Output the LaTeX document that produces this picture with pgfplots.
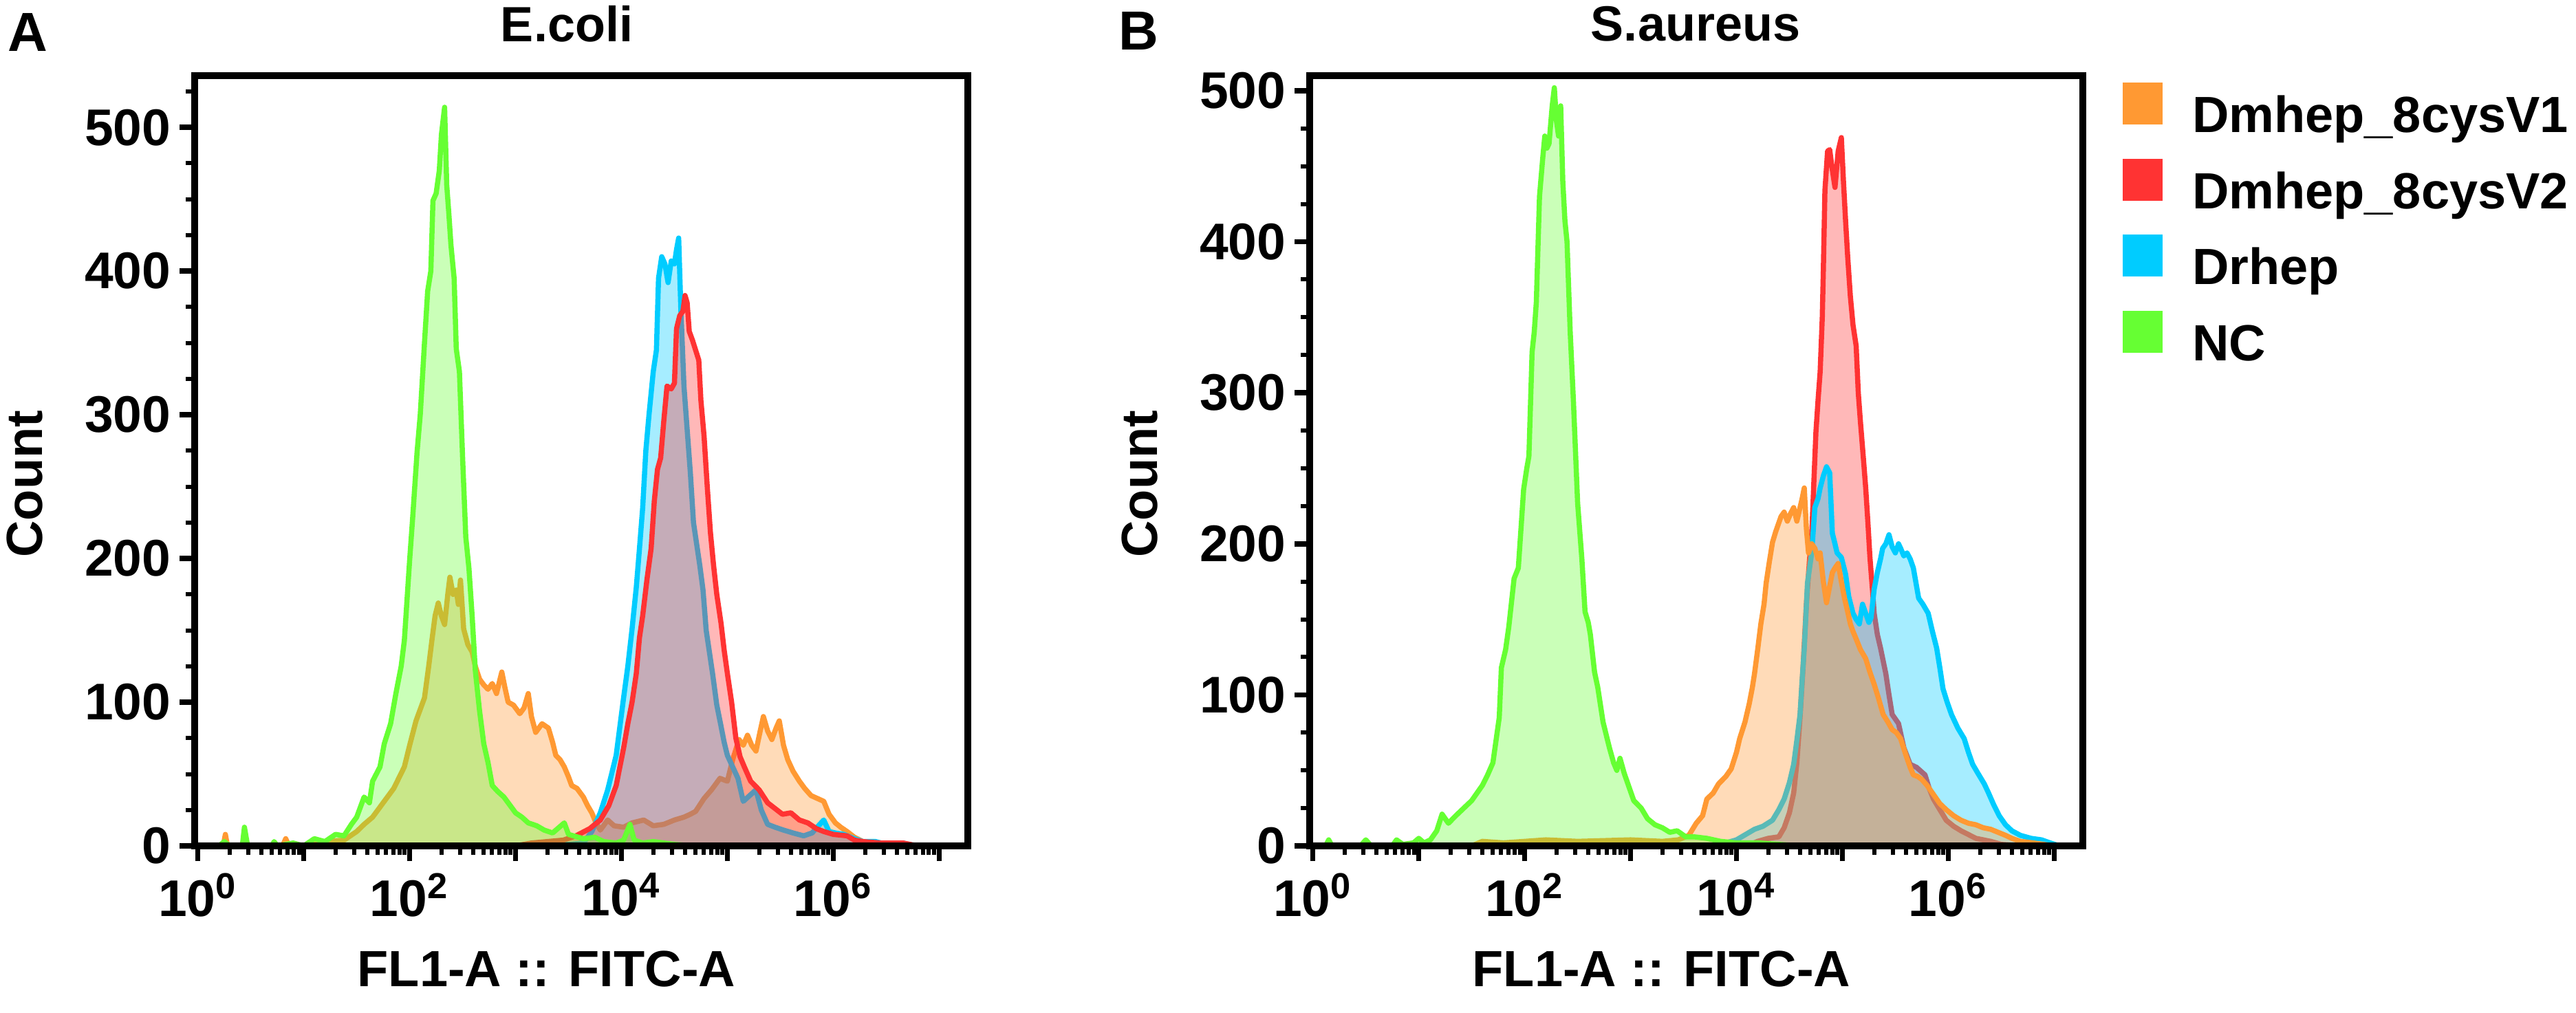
\documentclass[border=0pt]{standalone}
\usepackage{fontspec}
\setmainfont{Liberation Sans}
\usepackage{pgfplots}
\pgfplotsset{compat=1.18}
\usepackage{pgfplotstable}

\definecolor{cOr}{RGB}{255,153,51}
\definecolor{cRe}{RGB}{255,51,51}
\definecolor{cCy}{RGB}{0,204,255}
\definecolor{cGr}{RGB}{102,255,51}

% ---------------- Panel A (E.coli), x = log10(FL1-A) ----------------
\pgfplotstableread{
x y
-0.03 0
0.2 0
0.25 3
0.3 0
0.42 0
0.44 13
0.47 0
0.7 0
0.72 3
0.75 0
0.9 2
1.0 0
1.1 5
1.2 3
1.3 8
1.38 7
1.45 15
1.5 20
1.57 34
1.62 30
1.65 45
1.72 55
1.76 71
1.82 85
1.87 106
1.92 125
1.95 143
2.0 199
2.03 230
2.07 274
2.1 300
2.14 350
2.17 386
2.2 400
2.22 449
2.25 454
2.28 470
2.3 495
2.33 514
2.35 460
2.37 440
2.39 418
2.42 395
2.44 346
2.47 330
2.5 270
2.53 215
2.56 193
2.59 160
2.62 122
2.66 94
2.7 71
2.74 58
2.78 42
2.83 38
2.89 34
2.95 28
3.0 23
3.06 20
3.12 16
3.2 14
3.27 11
3.35 9
3.46 16
3.5 8
3.64 5
3.75 6
3.83 3
3.95 2
4.02 4
4.08 15
4.12 4
4.2 2
4.3 3
4.5 1
4.7 0
7.27 0
}\AGreen

\pgfplotstableread{
x y
-0.03 0
0.24 0
0.26 8
0.28 0
0.8 0
0.83 5
0.86 0
1.0 0
1.2 3
1.38 4
1.5 10
1.57 15
1.65 20
1.76 31
1.85 40
1.95 55
2.0 70
2.06 87
2.1 95
2.14 103
2.18 125
2.21 143
2.24 160
2.27 169
2.3 160
2.33 154
2.36 175
2.38 187
2.41 175
2.44 178
2.46 168
2.48 185
2.51 151
2.55 140
2.59 135
2.62 125
2.66 116
2.7 112
2.74 109
2.78 113
2.82 106
2.87 121
2.9 110
2.93 100
2.98 98
3.04 92
3.08 96
3.12 106
3.15 90
3.19 79
3.25 85
3.31 82
3.35 72
3.38 63
3.42 60
3.46 55
3.5 48
3.53 42
3.58 40
3.64 34
3.68 28
3.72 23
3.76 16
3.8 11
3.87 18
3.93 14
4.02 13
4.1 16
4.21 18
4.3 14
4.4 15
4.5 18
4.59 20
4.65 22
4.7 24
4.78 33
4.85 39
4.93 47
5.0 45
5.05 60
5.11 74
5.15 70
5.19 77
5.23 70
5.27 66
5.31 80
5.34 90
5.38 80
5.42 74
5.46 82
5.49 87
5.53 70
5.57 60
5.62 52
5.68 45
5.73 40
5.79 35
5.85 33
5.91 31
5.96 22
6.02 16
6.07 13
6.13 10
6.2 6
6.28 3
6.4 2
6.5 1
6.7 0
7.27 0
}\AOrange

\pgfplotstableread{
x y
-0.03 0
3.0 0
3.3 2
3.5 1
3.64 2
3.72 10
3.8 23
3.87 39
3.95 63
4.02 103
4.06 125
4.1 151
4.14 180
4.17 207
4.2 235
4.23 275
4.26 300
4.3 330
4.33 345
4.35 395
4.38 410
4.41 405
4.44 392
4.47 407
4.5 405
4.52 415
4.54 423
4.56 375
4.59 320
4.62 290
4.65 260
4.68 225
4.71 210
4.74 195
4.77 178
4.8 150
4.83 135
4.86 120
4.9 98
4.93 87
4.97 72
5.0 63
5.05 55
5.1 47
5.15 31
5.21 35
5.27 39
5.32 25
5.38 15
5.45 13
5.53 11
5.62 9
5.72 7
5.8 9
5.86 14
5.91 18
5.96 10
6.02 9
6.1 8
6.2 5
6.28 3
6.4 3
6.5 1
6.66 2
6.75 0
7.27 0
}\ACyan

\pgfplotstableread{
x y
-0.03 0
3.0 0
3.15 2
3.3 3
3.45 4
3.57 7
3.7 12
3.8 18
3.88 28
3.95 42
4.02 68
4.06 85
4.1 100
4.14 120
4.17 145
4.2 160
4.24 185
4.28 207
4.31 240
4.34 262
4.37 270
4.4 296
4.43 320
4.47 318
4.5 322
4.52 360
4.55 369
4.58 372
4.6 383
4.62 378
4.64 358
4.67 352
4.7 345
4.73 338
4.75 310
4.78 285
4.81 250
4.84 218
4.87 195
4.9 175
4.94 155
4.97 136
5.0 120
5.04 100
5.08 75
5.12 62
5.16 55
5.22 45
5.3 39
5.38 30
5.45 26
5.52 22
5.6 23
5.68 18
5.76 16
5.84 12
5.91 10
6.0 8
6.13 7
6.2 4
6.28 3
6.45 2
6.66 2
6.8 0
7.27 0
}\ARed

% ---------------- Panel B (S.aureus) ----------------
\pgfplotstableread{
x y
-0.03 0
0.12 0
0.15 4
0.18 0
0.45 0
0.5 4
0.55 0
0.75 0
0.79 4
0.85 1
0.95 2
1.0 5
1.05 2
1.11 4
1.17 10
1.22 21
1.28 15
1.35 20
1.44 26
1.5 30
1.55 35
1.6 40
1.65 47
1.7 55
1.73 70
1.76 85
1.78 118
1.82 130
1.85 145
1.9 177
1.94 184
1.97 215
1.99 236
2.02 250
2.04 258
2.07 327
2.09 340
2.11 360
2.14 430
2.17 455
2.19 470
2.21 462
2.23 465
2.26 490
2.28 502
2.3 480
2.32 470
2.34 490
2.36 440
2.38 414
2.4 400
2.43 340
2.46 295
2.5 227
2.54 190
2.57 155
2.6 148
2.62 140
2.66 115
2.69 105
2.74 82
2.8 65
2.84 55
2.87 50
2.9 58
2.94 48
2.98 40
3.03 30
3.1 25
3.16 18
3.23 14
3.3 12
3.37 9
3.44 10
3.52 6
3.6 6
3.72 5
3.85 3
4.0 2
4.2 2
4.4 1
4.6 0
7.27 0
}\BGreen

\pgfplotstableread{
x y
-0.03 0
1.5 0
1.6 3
1.8 2
2.2 4
2.5 3
3.0 4
3.3 3
3.45 4
3.55 7
3.62 15
3.68 20
3.72 31
3.78 35
3.83 41
3.9 46
3.95 51
4.0 62
4.03 71
4.08 82
4.12 94
4.15 105
4.17 114
4.2 130
4.23 147
4.26 160
4.28 174
4.31 188
4.34 201
4.37 208
4.4 214
4.42 218
4.45 221
4.48 215
4.51 220
4.54 224
4.57 215
4.6 224
4.62 230
4.64 237
4.66 210
4.68 194
4.71 200
4.74 197
4.77 190
4.79 194
4.82 175
4.85 161
4.88 172
4.905 181
4.93 184
4.96 187
4.99 175
5.02 164
5.05 155
5.075 147
5.1 142
5.13 137
5.17 130
5.22 124
5.26 115
5.3 107
5.34 98
5.385 87
5.43 82
5.47 77
5.51 75
5.55 71
5.6 60
5.64 52
5.67 47
5.71 46
5.75 44
5.8 40
5.86 34
5.92 28
5.98 24
6.05 20
6.12 17
6.19 15
6.26 14
6.33 12
6.4 11
6.47 9
6.54 7
6.6 5
6.68 3
6.8 2
7.0 0
7.27 0
}\BOrange

\pgfplotstableread{
x y
-0.03 0
4.1 0
4.2 3
4.3 5
4.4 6
4.45 12
4.5 22
4.54 35
4.57 55
4.6 85
4.63 120
4.66 160
4.69 190
4.71 205
4.73 240
4.75 274
4.77 295
4.79 314
4.81 350
4.82 381
4.835 434
4.86 460
4.88 461
4.9 450
4.93 436
4.96 460
4.99 469
5.01 440
5.03 414
5.05 390
5.075 364
5.1 345
5.13 331
5.15 300
5.17 281
5.2 255
5.22 237
5.24 215
5.26 191
5.29 164
5.3 154
5.33 140
5.36 131
5.41 114
5.44 100
5.47 87
5.53 81
5.58 65
5.64 54
5.7 52
5.78 47
5.82 38
5.86 31
5.92 24
5.98 17
6.05 13
6.12 10
6.26 5
6.4 3
6.5 1
6.7 0
7.27 0
}\BRed

\pgfplotstableread{
x y
-0.03 0
3.8 0
4.0 4
4.17 11
4.25 13
4.34 17
4.4 24
4.45 31
4.5 42
4.54 54
4.57 70
4.6 87
4.62 110
4.64 131
4.67 174
4.71 194
4.74 224
4.77 230
4.79 237
4.82 245
4.85 251
4.88 247
4.905 207
4.93 200
4.95 194
4.99 191
5.03 180
5.06 165
5.1 154
5.13 150
5.16 147
5.19 160
5.22 154
5.25 148
5.27 151
5.3 170
5.33 181
5.36 190
5.38 197
5.41 200
5.44 206
5.47 198
5.5 194
5.53 200
5.55 197
5.58 192
5.61 194
5.64 190
5.67 184
5.7 172
5.72 164
5.76 160
5.81 154
5.85 142
5.89 131
5.92 118
5.95 104
5.99 95
6.03 87
6.09 78
6.15 71
6.19 62
6.23 54
6.28 48
6.34 41
6.38 35
6.43 27
6.48 20
6.54 14
6.6 10
6.68 7
6.78 5
6.88 4
6.96 2
7.05 0
7.27 0
}\BCyan

\pgfplotsset{
  flowaxis/.style={
    scale only axis, width=224.8pt, height=224pt,
    xmin=-0.03, xmax=7.27, ymin=0,
    axis on top,
    axis line style={line width=2pt, line join=miter},
    tick align=outside, xtick pos=bottom, ytick pos=left,
    major tick length=4.4pt, minor tick length=2.6pt,
    major tick style={line width=1.5pt, black},
    minor tick style={line width=1.2pt, black},
    xtick={0,1,2,3,4,5,6,7},
    xticklabels={10\textsuperscript{0},,10\textsuperscript{2},,10\textsuperscript{4},,10\textsuperscript{6},},
    minor xtick={0.301,0.477,0.602,0.699,0.778,0.845,0.903,0.954,
      1.301,1.477,1.602,1.699,1.778,1.845,1.903,1.954,
      2.301,2.477,2.602,2.699,2.778,2.845,2.903,2.954,
      3.301,3.477,3.602,3.699,3.778,3.845,3.903,3.954,
      4.301,4.477,4.602,4.699,4.778,4.845,4.903,4.954,
      5.301,5.477,5.602,5.699,5.778,5.845,5.903,5.954,
      6.301,6.477,6.602,6.699,6.778,6.845,6.903,6.954},
    ytick={0,100,200,300,400,500},
    minor ytick={25,50,75,125,150,175,225,250,275,325,350,375,425,450,475,525},
    /pgf/number format/assume math mode=true,
    tick label style={font=\fontsize{15}{18}\selectfont\bfseries},
    yticklabel style={xshift=1pt},
    xlabel={FL1-A :: FITC-A},
    ylabel={Count},
    label style={font=\fontsize{14.8}{18}\selectfont\bfseries},
    xlabel style={at={(axis description cs:0.455,-0.16)}, anchor=center},
    ylabel style={at={(axis description cs:-0.22,0.47)}, anchor=center},
  },
  hist/.style={draw=#1, line width=1.5pt, fill=#1, fill opacity=0.35, line join=round, forget plot},
}

\begin{document}
\begin{tikzpicture}
\useasboundingbox (0,0) rectangle (749pt,294.4pt);

\begin{axis}[flowaxis, at={(56.6pt,48.4pt)}, anchor=south west, ymax=536]
  \addplot[hist=cOr] table[x=x,y=y]{\AOrange} \closedcycle;
  \addplot[hist=cCy] table[x=x,y=y]{\ACyan} \closedcycle;
  \addplot[hist=cRe] table[x=x,y=y]{\ARed} \closedcycle;
  \addplot[hist=cGr] table[x=x,y=y]{\AGreen} \closedcycle;
\end{axis}

\begin{axis}[flowaxis, at={(380.8pt,48.4pt)}, anchor=south west, ymax=510,
  legend style={at={(axis description cs:1,1)}, anchor=north west, xshift=11.6pt, yshift=-2pt,
    draw=none, fill=none, inner sep=0pt, outer sep=0pt, row sep=4.6pt,
    font=\fontsize{14.8}{16}\selectfont\bfseries,
    nodes={inner sep=0pt, text height=10.6pt, text depth=3pt},
    /tikz/every odd column/.style={column sep=8.6pt}},
  legend cell align=left]
  \addplot[hist=cRe] table[x=x,y=y]{\BRed} \closedcycle;
  \addplot[hist=cCy] table[x=x,y=y]{\BCyan} \closedcycle;
  \addplot[hist=cOr] table[x=x,y=y]{\BOrange} \closedcycle;
  \addplot[hist=cGr] table[x=x,y=y]{\BGreen} \closedcycle;
  \addlegendimage{legend image code/.code={\fill[cOr] (0pt,-1.3pt) rectangle (11.2pt,10.5pt);}}
  \addlegendentry{Dmhep\_8cysV1}
  \addlegendimage{legend image code/.code={\fill[cRe] (0pt,-1.3pt) rectangle (11.2pt,10.5pt);}}
  \addlegendentry{Dmhep\_8cysV2}
  \addlegendimage{legend image code/.code={\fill[cCy] (0pt,-1.3pt) rectangle (11.2pt,10.5pt);}}
  \addlegendentry{Drhep}
  \addlegendimage{legend image code/.code={\fill[cGr] (0pt,-1.3pt) rectangle (11.2pt,10.5pt);}}
  \addlegendentry{NC}
\end{axis}

\node[font=\fontsize{14.4}{17}\selectfont\bfseries, anchor=center] at (164.8pt,287.4pt) {E.coli};
\node[font=\fontsize{14.4}{17}\selectfont\bfseries, anchor=center] at (493pt,287.4pt) {S.aureus};
\node[font=\fontsize{16}{18}\selectfont\bfseries, anchor=center] at (8pt,285pt) {A};
\node[font=\fontsize{16}{18}\selectfont\bfseries, anchor=center] at (331pt,285.4pt) {B};
\end{tikzpicture}
\end{document}
